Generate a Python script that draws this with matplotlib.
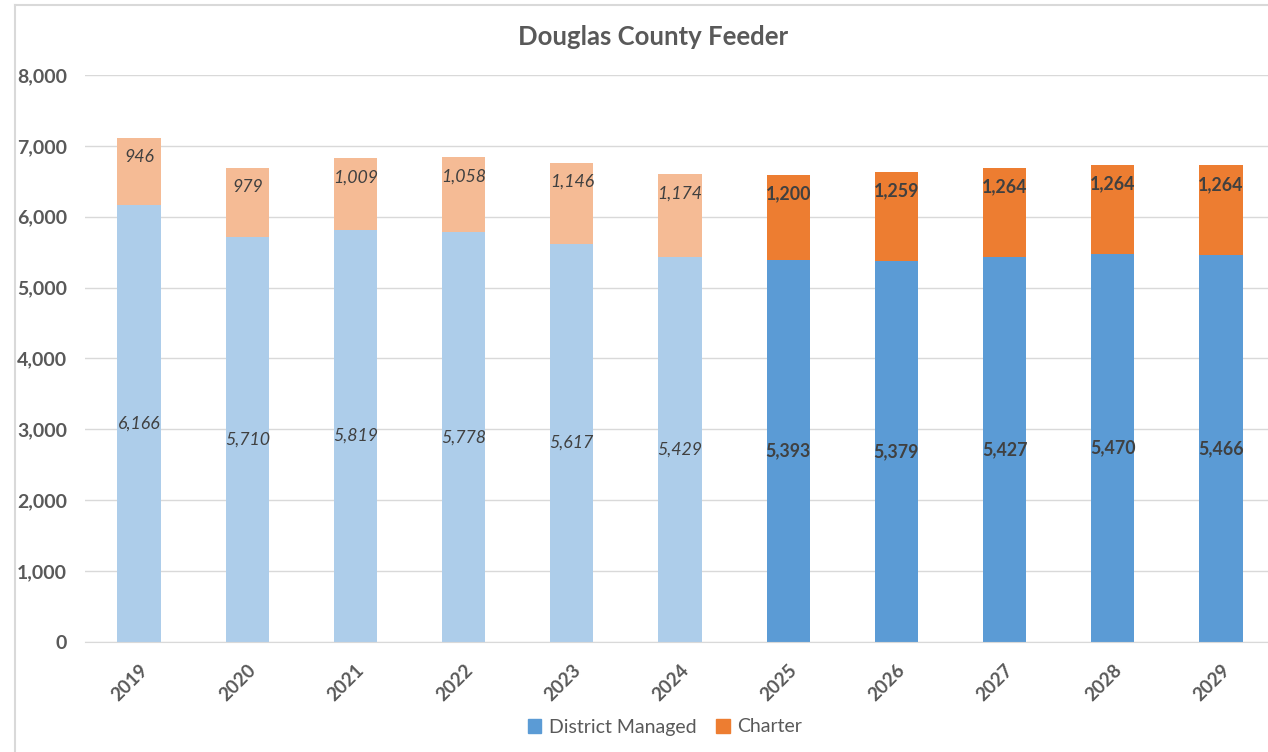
import matplotlib
matplotlib.use("Agg")
import matplotlib.pyplot as plt
import numpy as np
from matplotlib.patches import Patch

plt.rcParams['font.family'] = ['Lato', 'DejaVu Sans']

years = ["2019", "2020", "2021", "2022", "2023", "2024",
         "2025", "2026", "2027", "2028", "2029"]
district = [6166, 5710, 5819, 5778, 5617, 5429, 5393, 5379, 5427, 5470, 5466]
charter = [946, 979, 1009, 1058, 1146, 1174, 1200, 1259, 1264, 1264, 1264]
first_projected = "2025"

txt = "#404040"
grey = "#595959"

fig = plt.figure(figsize=(12.68, 7.52), dpi=100)
ax = fig.add_axes([85/1268, 110/752, 1183/1268, 567/752])

x = np.arange(len(years))
proj = np.array([int(y) >= int(first_projected) for y in years])
c_dist = ["#5B9BD5" if p else "#ADCDEA" for p in proj]
c_chart = ["#ED7D31" if p else "#F5BB95" for p in proj]

ax.bar(x, district, width=0.4, color=c_dist, zorder=2)
ax.bar(x, charter, width=0.4, bottom=district, color=c_chart, zorder=2)

for i in range(len(years)):
    style = "normal" if proj[i] else "italic"
    weight = "bold" if proj[i] else "normal"
    ax.text(x[i], district[i] / 2, f"{district[i]:,}", ha="center", va="center",
            fontsize=12.8, color=txt, style=style, fontweight=weight, zorder=3)
    ax.annotate(f"{charter[i]:,}", (x[i], district[i] + charter[i]),
                xytext=(0, -14), textcoords="offset points", ha="center", va="center",
                fontsize=12.8, color=txt, style=style, fontweight=weight, zorder=3)

ax.set_ylim(0, 8000)
ax.set_xlim(-0.5, 10.5 - 7/108.2)
ax.set_yticks(range(0, 8001, 1000))
ax.set_yticklabels([f"{v:,}" for v in range(0, 8001, 1000)],
                   fontsize=14, fontweight="bold", color=grey)
ax.set_xticks(x)
ax.set_xticklabels(years, rotation=45, ha="right", rotation_mode="anchor",
                   fontsize=13.5, fontweight="bold", color=grey)
ax.tick_params(axis="both", length=0)
ax.tick_params(axis="y", pad=13)
ax.tick_params(axis="x", pad=14)
ax.grid(axis="y", color="#D9D9D9", linewidth=1, zorder=0)
for s in ["top", "right", "left"]:
    ax.spines[s].set_visible(False)
ax.spines["bottom"].set_color("#D9D9D9")

fig.text(653/1268, 1 - 37/752, "Douglas County Feeder", ha="center", va="center",
         fontsize=18.5, fontweight="bold", color=grey)

handles = [Patch(color="#5B9BD5", label="District Managed"),
           Patch(color="#ED7D31", label="Charter")]
fig.legend(handles=handles, loc="center", bbox_to_anchor=(665/1268, 1 - 727/752),
           ncol=2, frameon=False, fontsize=14, handlelength=0.7, handleheight=0.7,
           columnspacing=1.0, handletextpad=0.4, labelcolor=grey)

# outer frame lines like the screenshot
fig.add_artist(plt.Line2D([15/1268, 1], [1 - 5/752, 1 - 5/752], color="#D9D9D9", lw=1.5))
fig.add_artist(plt.Line2D([15/1268, 15/1268], [0, 1 - 5/752], color="#D9D9D9", lw=1.5))

fig.savefig("out.png", dpi=100)
